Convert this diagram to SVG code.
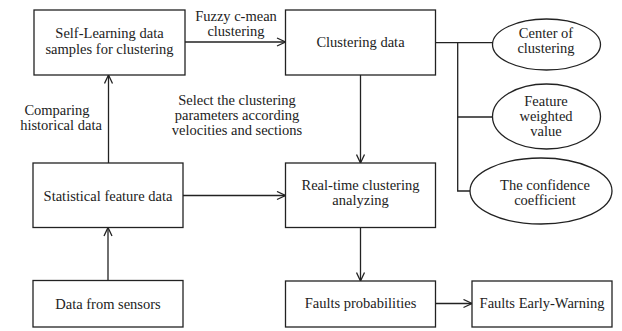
<svg xmlns="http://www.w3.org/2000/svg" width="622" height="331" viewBox="0 0 622 331" font-family="'Liberation Serif', 'Times New Roman', 'DejaVu Serif', serif">
  <style>
    .box { fill: #ffffff; stroke: #222222; stroke-width: 1.3; }
    .line { fill: none; stroke: #222222; stroke-width: 1.3; }
    .arrow { fill: none; stroke: #222222; stroke-width: 1.3; marker-end: url(#head); }
    text { font-family: 'Liberation Serif', 'Times New Roman', 'DejaVu Serif', serif; font-size: 14.5px; fill: #222222; text-anchor: middle; }
  </style>
  <defs>
    <marker id="head" viewBox="0 0 10 10" refX="9.5" refY="5" markerWidth="10" markerHeight="10" markerUnits="userSpaceOnUse" orient="auto">
      <path d="M1,1 L9.5,5 L1,9" fill="none" stroke="#222222" stroke-width="1.3"/>
    </marker>
  </defs>
  <rect width="622" height="331" fill="#ffffff"/>

  <!-- connectors and their labels -->
  <g id="connectors">
    <line class="arrow" x1="185" y1="42" x2="285.5" y2="42"/>
    <line class="arrow" x1="108.5" y1="163" x2="108.5" y2="75"/>
    <line class="arrow" x1="108" y1="280.5" x2="108" y2="227.5"/>
    <line class="arrow" x1="183" y1="195.5" x2="285.5" y2="195.5"/>
    <line class="arrow" x1="360.5" y1="75" x2="360.5" y2="163"/>
    <line class="arrow" x1="360.5" y1="227.5" x2="360.5" y2="281"/>
    <line class="arrow" x1="435.5" y1="303.5" x2="472" y2="303.5"/>
    <polyline class="line" points="435.5,42.7 492.7,42.7"/>
    <polyline class="line" points="457.7,42.7 457.7,191 470,191"/>
    <polyline class="line" points="457.7,117 492.7,117"/>
    <text x="236" y="21">Fuzzy c-mean</text>
    <text x="236" y="36">clustering</text>
    <text x="57" y="114.5">Comparing</text>
    <text x="61" y="129.5">historical data</text>
    <text x="237" y="105">Select the clustering</text>
    <text x="237" y="120">parameters according</text>
    <text x="237" y="135">velocities and sections</text>
  </g>

  <g id="self-learning">
    <rect class="box" x="34" y="10" width="151" height="65"/>
    <text x="109.5" y="38">Self-Learning data</text>
    <text x="109.5" y="53.5">samples for clustering</text>
  </g>

  <g id="statistical-feature">
    <rect class="box" x="33" y="163" width="150" height="64.5"/>
    <text x="108" y="200.5">Statistical feature data</text>
  </g>

  <g id="sensors">
    <rect class="box" x="33" y="280.5" width="150" height="46.5"/>
    <text x="108" y="308.5">Data from sensors</text>
  </g>

  <g id="clustering-data">
    <rect class="box" x="285.5" y="10" width="150" height="65"/>
    <text x="360.5" y="47">Clustering data</text>
  </g>

  <g id="real-time">
    <rect class="box" x="285.5" y="163" width="150" height="64.5"/>
    <text x="360.5" y="190">Real-time clustering</text>
    <text x="360.5" y="205">analyzing</text>
  </g>

  <g id="faults-probabilities">
    <rect class="box" x="285.5" y="281" width="150" height="46"/>
    <text x="360.5" y="308">Faults probabilities</text>
  </g>

  <g id="early-warning">
    <rect class="box" x="472" y="281" width="140" height="46"/>
    <text x="542" y="308">Faults Early-Warning</text>
  </g>

  <g id="center">
    <ellipse class="box" cx="546.5" cy="44.5" rx="54" ry="25.5"/>
    <text x="546" y="37.5">Center of</text>
    <text x="546" y="52.5">clustering</text>
  </g>

  <g id="feature-weight">
    <ellipse class="box" cx="546.5" cy="116.5" rx="54" ry="32.5"/>
    <text x="546" y="106">Feature</text>
    <text x="546" y="121">weighted</text>
    <text x="546" y="136">value</text>
  </g>

  <g id="confidence">
    <ellipse class="box" cx="541" cy="191" rx="71" ry="33"/>
    <text x="545" y="190">The confidence</text>
    <text x="545" y="205">coefficient</text>
  </g>
</svg>
